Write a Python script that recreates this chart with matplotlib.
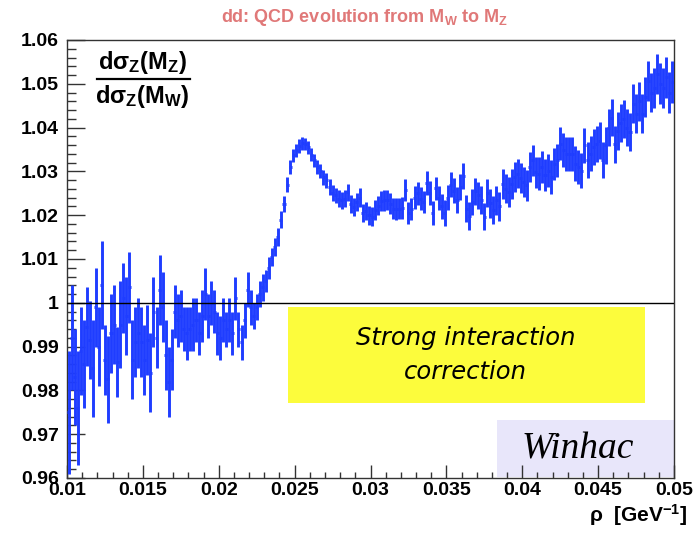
import matplotlib
matplotlib.use("Agg")
import matplotlib.pyplot as plt
import numpy as np
from matplotlib.patches import Rectangle
from matplotlib.lines import Line2D

plt.rcParams['font.family'] = ['Liberation Sans', 'DejaVu Sans']
plt.rcParams['mathtext.fontset'] = 'custom'
plt.rcParams['mathtext.rm'] = 'Liberation Sans:bold'
plt.rcParams['mathtext.bf'] = 'Liberation Sans:bold'
plt.rcParams['mathtext.it'] = 'Liberation Sans:bold'
plt.rcParams['mathtext.default'] = 'bf'

# Histogram binning: 200 bins between rho = 0.01 and 0.05 GeV^-1
x_min, x_max, n_bins = 0.01, 0.05, 200

# Ratio dsigma_Z(M_Z)/dsigma_Z(M_W) per bin
ratio_low = [0.975, 0.992, 0.983, 0.976, 0.989, 0.986, 0.9945, 0.9915, 0.985, 0.999,
             0.990, 1.004, 0.987, 0.9825, 0.993, 0.995, 0.9865, 0.995, 1.001, 0.997,
             1.0035, 0.987, 0.991, 0.993, 0.991, 0.987, 0.9915, 0.984, 0.998, 0.992,
             1.003, 0.999, 0.988, 0.982, 0.987]
ratio_flat = [0.998, 0.996, 0.997, 0.994, 0.993, 0.994, 0.995, 0.996, 0.993, 0.997,
              1.002, 0.997, 1.000, 0.998, 0.993, 0.992, 0.996, 0.994, 0.996, 0.993,
              1.001, 0.994, 0.991, 0.996, 1.003, 0.999, 0.997, 0.999, 1.002, 1.0035]
ratio_peak = [1.005, 1.008, 1.0105, 1.0127, 1.015, 1.019, 1.0225, 1.027, 1.031, 1.0337,
              1.0348, 1.0358, 1.0364, 1.0363, 1.0355, 1.0338, 1.0325, 1.031, 1.030, 1.0287,
              1.028, 1.0264, 1.025, 1.0245, 1.0238, 1.0234, 1.0238, 1.0252, 1.0226, 1.0219,
              1.023, 1.024, 1.0205, 1.021, 1.020]
ratio_mid = [1.0197, 1.0212, 1.0222, 1.0232, 1.0234, 1.0234, 1.0226, 1.0215, 1.0215, 1.0215,
             1.0216, 1.0257, 1.0205, 1.0215, 1.024, 1.025, 1.0238, 1.023, 1.0273, 1.025,
             1.0205, 1.0261, 1.0239, 1.022, 1.0205, 1.024, 1.027, 1.0256, 1.0234, 1.0264,
             1.029, 1.0215, 1.0198, 1.023, 1.0255]
ratio_rise = [1.0245, 1.0234, 1.0197, 1.025, 1.0227, 1.0212, 1.0234, 1.022, 1.0272, 1.026,
              1.0253, 1.0272, 1.0287, 1.0295, 1.0285, 1.0276, 1.0268, 1.031, 1.0325, 1.0298,
              1.0295, 1.031, 1.0292, 1.0302, 1.0287, 1.0317, 1.0325, 1.0363, 1.0348, 1.034]
ratio_high = [1.034, 1.034, 1.0318, 1.031, 1.0302, 1.036, 1.0326, 1.034, 1.0355, 1.0363,
              1.037, 1.0325, 1.036, 1.040, 1.0423, 1.0362, 1.0393, 1.041, 1.042, 1.040,
              1.039, 1.0455, 1.0432, 1.046, 1.0432, 1.047, 1.0507, 1.048, 1.049, 1.0523,
              1.050, 1.049, 1.0515, 1.048, 1.0505]

# Statistical uncertainties per bin
err_low = [0.014, 0.012, 0.011, 0.013, 0.010, 0.010, 0.009, 0.009, 0.011, 0.009,
           0.009, 0.010, 0.008, 0.010, 0.009, 0.009, 0.008, 0.010, 0.008, 0.009,
           0.008, 0.009, 0.008, 0.008, 0.008, 0.008, 0.008, 0.009, 0.008, 0.007,
           0.008, 0.008, 0.008, 0.008, 0.007]
err_flat = [0.006, 0.006, 0.006, 0.005, 0.006, 0.005, 0.006, 0.005, 0.005, 0.006,
            0.006, 0.005, 0.005, 0.005, 0.005, 0.005, 0.005, 0.004, 0.005, 0.005,
            0.005, 0.004, 0.004, 0.004, 0.004, 0.004, 0.003, 0.003, 0.003, 0.003]
err_peak = [0.0025, 0.0025, 0.002, 0.002, 0.002, 0.002, 0.0018, 0.0018, 0.0016, 0.0015,
            0.0015, 0.0015, 0.0014, 0.0014, 0.0015, 0.0015, 0.0015, 0.0016, 0.0016, 0.0017,
            0.0017, 0.0018, 0.0018, 0.0018, 0.0019, 0.0019, 0.002, 0.002, 0.002, 0.002,
            0.002, 0.0021, 0.0021, 0.0021, 0.0022]
err_mid = [0.0022, 0.0023, 0.0022, 0.0023, 0.0024, 0.0023, 0.0024, 0.0024, 0.0025, 0.0024,
           0.0025, 0.0025, 0.0026, 0.0025, 0.0026, 0.0026, 0.0027, 0.0026, 0.0027, 0.0027,
           0.0028, 0.0027, 0.0028, 0.0028, 0.0029, 0.0028, 0.0029, 0.0029, 0.003, 0.0029,
           0.003, 0.003, 0.0031, 0.003, 0.0031]
err_rise = [0.0031, 0.0032, 0.0031, 0.0032, 0.0033, 0.0032, 0.0033, 0.0033, 0.0034, 0.0033,
            0.0034, 0.0034, 0.0035, 0.0034, 0.0035, 0.0035, 0.0036, 0.0035, 0.0036, 0.0036,
            0.0037, 0.0036, 0.0037, 0.0037, 0.0038, 0.0037, 0.0038, 0.0038, 0.0039, 0.0038]
err_high = [0.0039, 0.0039, 0.004, 0.0039, 0.004, 0.004, 0.0041, 0.004, 0.0041, 0.0041,
            0.0042, 0.0041, 0.0042, 0.0042, 0.0043, 0.0042, 0.0043, 0.0043, 0.0044, 0.0043,
            0.0044, 0.0044, 0.0045, 0.0044, 0.0045, 0.0045, 0.0046, 0.0045, 0.0046, 0.0046,
            0.0047, 0.0046, 0.0047, 0.0047, 0.0048]

x_ticks = [0.01, 0.015, 0.02, 0.025, 0.03, 0.035, 0.04, 0.045, 0.05]
x_tick_labels = ["0.01", "0.015", "0.02", "0.025", "0.03", "0.035", "0.04", "0.045", "0.05"]
y_ticks = [0.96, 0.97, 0.98, 0.99, 1.00, 1.01, 1.02, 1.03, 1.04, 1.05, 1.06]
y_tick_labels = ["0.96", "0.97", "0.98", "0.99", "1", "1.01", "1.02", "1.03", "1.04", "1.05", "1.06"]

ratio = np.array(ratio_low + ratio_flat + ratio_peak + ratio_mid + ratio_rise + ratio_high)
errors = np.array(err_low + err_flat + err_peak + err_mid + err_rise + err_high)
edges = np.linspace(x_min, x_max, n_bins + 1)
centers = 0.5 * (edges[:-1] + edges[1:])
half_width = 0.5 * (edges[1] - edges[0])

W, H = 694, 535
fig = plt.figure(figsize=(W / 100, H / 100), dpi=100)
ax = fig.add_axes([67 / W, 1 - 478 / H, (674 - 67) / W, (478 - 40) / H])

blue = '#1f3dff'
ax.errorbar(centers, ratio, yerr=errors, xerr=half_width, fmt='none',
            ecolor=blue, elinewidth=2.1, capsize=0, zorder=3)
ax.axhline(1.0, color='black', lw=1.0, zorder=4)

ax.set_xlim(x_min, x_max)
ax.set_ylim(0.96, 1.06)
ax.set_xticks(x_ticks)
ax.set_xticklabels(x_tick_labels)
ax.set_yticks(y_ticks)
ax.set_yticklabels(y_tick_labels)
ax.xaxis.set_minor_locator(matplotlib.ticker.MultipleLocator(0.001))
ax.yaxis.set_minor_locator(matplotlib.ticker.MultipleLocator(0.002))
ax.tick_params(axis='both', which='both', direction='in', top=False, right=False,
               labelsize=14, width=1.0, color='#333333')
ax.tick_params(axis='y', which='major', length=13, pad=6)
ax.tick_params(axis='y', which='minor', length=6.5)
ax.tick_params(axis='x', which='major', length=9.5, pad=3)
ax.tick_params(axis='x', which='minor', length=4.5)
for lab in ax.get_xticklabels() + ax.get_yticklabels():
    lab.set_fontweight('bold')
for sp in ax.spines.values():
    sp.set_linewidth(1.0)
    sp.set_color('#333333')

# Annotation boxes
ax.add_patch(Rectangle((0.364, 0.171), 0.588, 0.219, transform=ax.transAxes,
                       facecolor='#fcfc3c', edgecolor='none', zorder=5))
ax.text(0.657, 0.281, "Strong interaction\ncorrection", transform=ax.transAxes,
        ha='center', va='center', fontsize=17.5, style='italic',
        family=['DejaVu Sans'], linespacing=1.55, zorder=6)
ax.add_patch(Rectangle((0.708, 0.003), 0.292, 0.13, transform=ax.transAxes,
                       facecolor='#e8e6fa', edgecolor='none', zorder=1.5))
ax.text(0.842, 0.066, "Winhac", transform=ax.transAxes, ha='center', va='center',
        fontsize=27, style='italic', family=['Liberation Serif'], zorder=6)

# Ratio label in the upper-left corner
fig.text(142 / W, 1 - 62 / H, "dσ$_Z$(M$_Z$)", ha='center', va='center',
         fontsize=17, fontweight='bold')
fig.add_artist(Line2D([97 / W, 190 / W], [1 - 79 / H, 1 - 79 / H], color='black', lw=1.6))
fig.text(142 / W, 1 - 97 / H, "dσ$_Z$(M$_W$)", ha='center', va='center',
         fontsize=17, fontweight='bold')

# Title and axis label
fig.text(365 / W, 1 - 18 / H, "dd: QCD evolution from M$_W$ to M$_Z$", ha='center',
         va='center', fontsize=13, fontweight='bold', color='#e07878')
fig.text(688 / W, 1 - 515 / H, "ρ  [GeV$^{-1}$]", ha='right', va='center',
         fontsize=15, fontweight='bold')

fig.savefig("out.png", dpi=100)
